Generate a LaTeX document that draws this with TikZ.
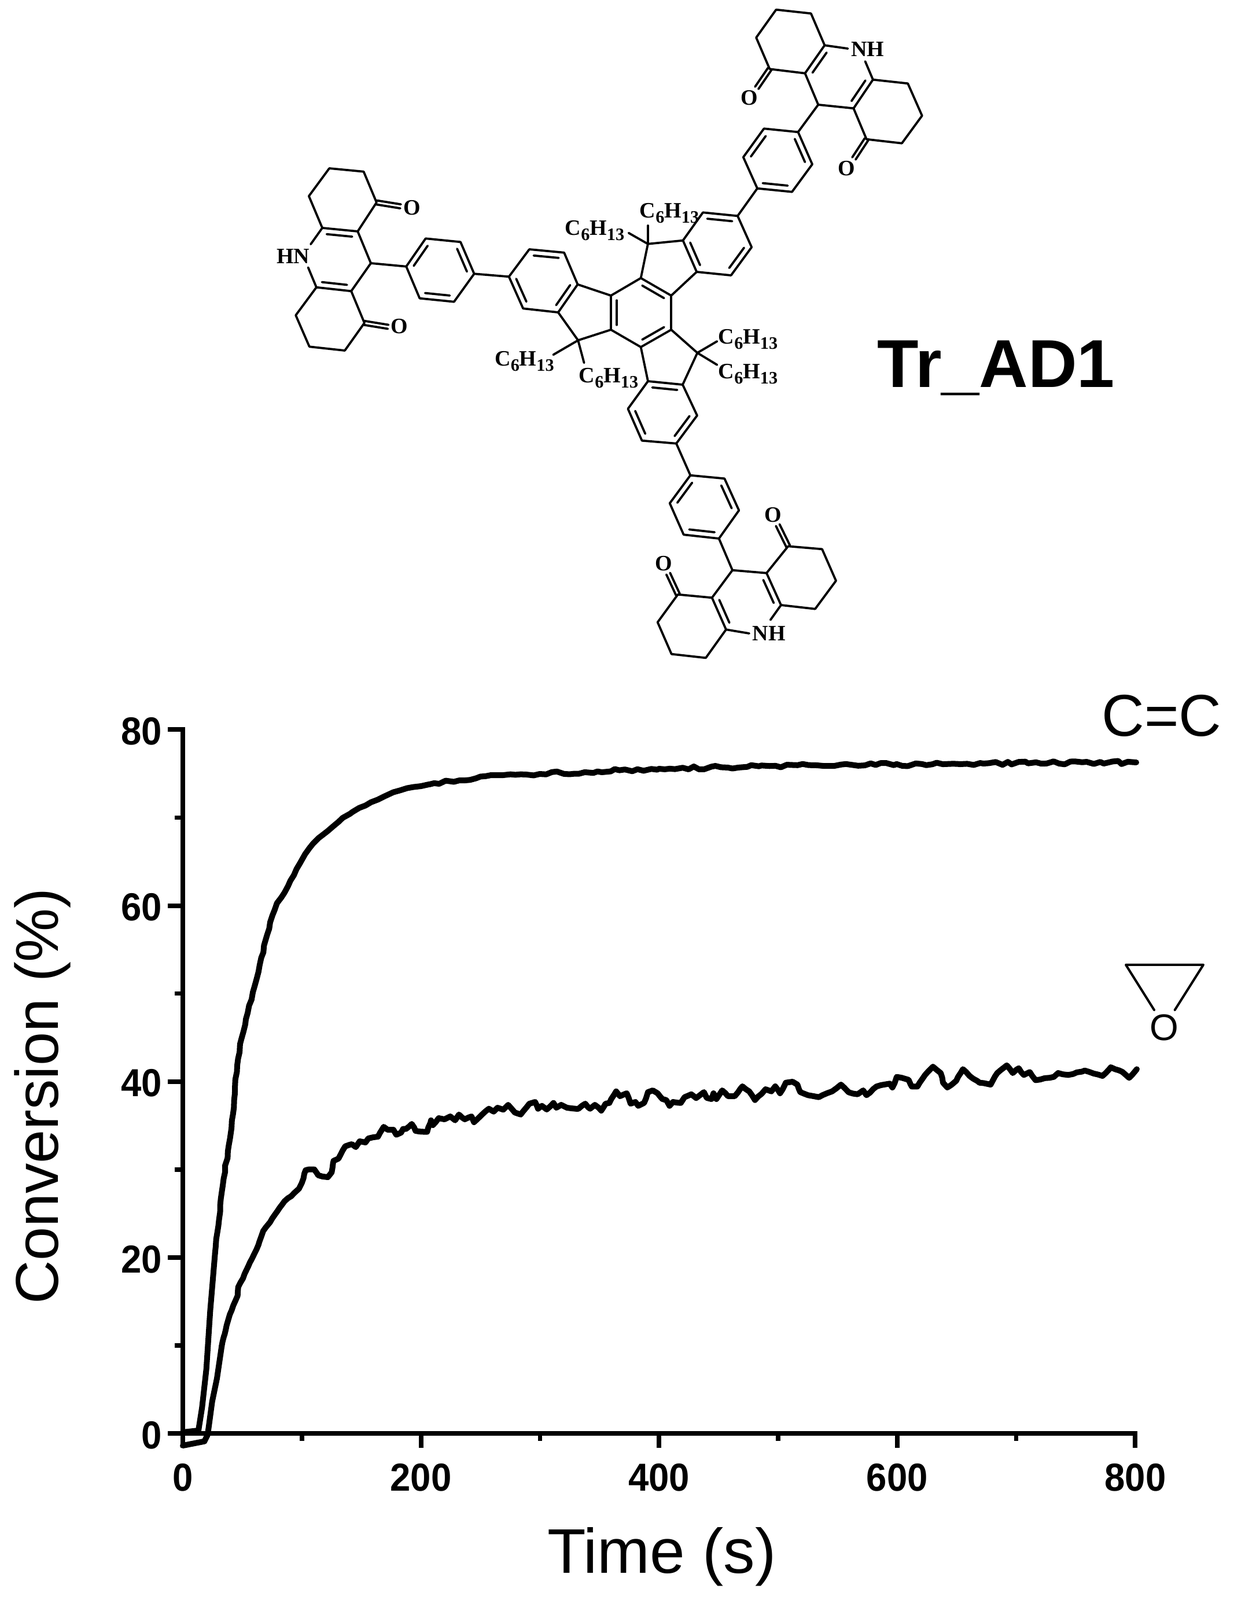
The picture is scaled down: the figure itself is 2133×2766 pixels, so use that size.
\documentclass[tikz,border=0pt]{standalone}
\usepackage{fontspec}
\setmainfont{Liberation Serif}
\newfontfamily\arialfont{Liberation Sans}
\usetikzlibrary{calc,decorations.pathmorphing}
\newcommand{\dbl}[2]{\draw[bondline] (#1)--(#2);
  \draw[bondline] ($(#1)!0.14!(#2)!0.1cm!-90:(#2)$)--($(#2)!0.14!(#1)!0.1cm!90:(#1)$);}
\newcommand{\cdo}[2]{\draw[bondline] ($(#1)!0.035cm!90:(#2)$)--($(#2)!0.035cm!-90:(#1)$);
  \draw[bondline] ($(#1)!0.035cm!-90:(#2)$)--($(#2)!0.035cm!90:(#1)$);}
\newcommand{\bonds}[1]{\foreach \pa/\pb in {#1}{\draw[bondline] (\pa)--(\pb);}}
\newcommand{\hexyl}{C\raisebox{-0.09cm}{\fontsize{8.6pt}{9pt}\selectfont 6}H\raisebox{-0.09cm}{\fontsize{8.6pt}{9pt}\selectfont 13}}
\tikzset{
  bondline/.style={line width=0.038cm,line cap=round,line join=round},
  atom/.style={font=\fontsize{10.8pt}{12pt}\selectfont\bfseries,inner sep=0pt},
  axisline/.style={line width=0.078cm,line cap=rect},
  majortick/.style={line width=0.08cm},
  minortick/.style={line width=0.075cm},
  ticklabel/.style={font=\arialfont\fontsize{19.2pt}{20pt}\selectfont\bfseries,inner sep=0pt,xscale=0.94},
  axistitle/.style={font=\arialfont\fontsize{29pt}{32pt}\selectfont,inner sep=0pt},
  curvebase/.style={line width=0.1cm,line join=round,line cap=round},
  noisyflat/.style={curvebase,decorate,decoration={random steps,segment length=0.1cm,amplitude=0.03cm}},
  noisyrise/.style={curvebase,decorate,decoration={random steps,segment length=0.12cm,amplitude=0.012cm}},
  noisyfine/.style={curvebase,decorate,decoration={random steps,segment length=0.08cm,amplitude=0.007cm}}
}
\begin{document}
\begin{tikzpicture}[x=0.01cm,y=-0.01cm]
\useasboundingbox (0,0) rectangle (2133,2766);
\fill[white] (0,0) rectangle (2133,2766);
% molecule vertices
\foreach \n/\x/\y in {A1/1341.5/16.7,A2/1401.8/23.3,A3/1425.4/78.3,A4/1391.5/126.7,A5/1330.4/119.3,A6/1307.1/65,
 TC/1414.3/181,R1/1475.4/187.3,R2/1508.9/137.7,R3/1569.2/144.3,R4/1593.8/200,R5/1558.9/247.7,R6/1497.8/240.7,
 Oa/1308/152,Ob/1476/274,Na/1465.6/84,Nb/1495.5/106,
 P1/1379.5/228.3,P2/1404/284,P3/1369/331.7,P4/1309/325.7,P5/1284.8/271.7,P6/1320.5/222.3,
 T1/1275/373.3,T2/1215/367.3,T3/1180.5/415.7,T4/1204.2/470,T5/1263.6/476,T6/1299.2/427.3,
 QT/1119.9/421.7,QTa/1119.9/390,QTb/1086.6/402.7,
 C1/1107.7/480.7,C2/1160.2/511,C3/1160.2/570,C4/1107.7/600,C5/1056/570,C6/1056/511,
 L1/998.5/491.7,L2/964.8/540,L3/904.2/533.3,L4/879.7/478.3,L5/914.9/431,L6/975.1/436.7,
 QL/999.2/588.3,QLa/956.3/613.3,QLb/1009.6/627.3,
 QB/1205.4/610,QBa/1239.5/590,QBb/1239.5/630.7,
 B1/1120/659,B2/1180/665,B3/1205/718.3,B4/1169/766.7,B5/1109.6/761.7,B6/1085.4/706.7,
 Q1/1193.3/821.7,Q2/1252.3/827.3,Q3/1277.3/882.3,Q4/1242.7/931,Q5/1181.7/924.3,Q6/1157.7/870,
 BC/1266/985.7,D1/1325/990.7,D2/1362.3/944.3,D3/1421/949.3,D4/1445/1004,D5/1409/1052.7,D6/1350/1046,
 Oc/1344.3/907.7,Nc/1331.7/1071.7,Nd/1295/1095,
 E1/1230.7/1033.3,E2/1255/1088.3,E3/1220/1137.3,E4/1160.7/1130.7,E5/1136.7/1075.7,E6/1171.7/1027.7,Od/1155/991.7,
 M1/735.7/412.3,M2/796/418.3,M3/819.6/473.3,M4/784.8/521.7,M5/725.4/515.7,M6/702.2/460.7,
 LC/641/455,G1/618.3/400,G2/650.9/350,G3/628.6/296.7,G4/569.2/291,G5/533.9/339,G6/557.1/394,
 H1/607.1/503.3,H2/546.9/496.7,H3/511.2/545,H4/534.8/599.3,H5/596/606,H6/629.9/558.3,
 Oe/692.4/356.7,Of/671/565,Ne/537/422.3,Nf/532.6/462.3}
 {\coordinate (\n) at (\x,\y);}
\bonds{A1/A2,A2/A3,A4/A5,A5/A6,A6/A1,A4/TC,TC/R1,R2/R3,R3/R4,R4/R5,R5/R6,R6/R1,A3/Na,R2/Nb,TC/P1,
  P2/P3,P4/P5,P6/P1,P4/T1,T1/T6,T5/T4,T3/T2,QT/T3,QT/QTa,QT/QTb,QT/C1,C2/T4,
  C2/C3,C4/C5,C6/C1,C6/L1,L2/L3,L4/L5,L6/L1,L4/M3,QL/L2,QL/C5,QL/QLa,QL/QLb,
  C3/QB,QB/B2,QB/QBa,QB/QBb,C4/B1,B2/B3,B4/B5,B6/B1,B4/Q1,Q1/Q2,Q3/Q4,Q5/Q6,Q4/BC,
  BC/D1,D1/D2,D2/D3,D3/D4,D4/D5,D5/D6,D6/Nc,BC/E1,E2/Nd,E2/E3,E3/E4,E4/E5,E5/E6,E6/E1,
  M1/M2,M3/M4,M5/M6,M6/LC,LC/G1,G1/G2,G2/G3,G3/G4,G4/G5,G5/G6,G6/Ne,LC/H1,H1/H6,H6/H5,H5/H4,H4/H3,H3/H2,H2/Nf}
\dbl{A4}{A3}\dbl{R2}{R1}
\dbl{P1}{P2}\dbl{P3}{P4}\dbl{P5}{P6}
\dbl{T2}{T1}\dbl{T6}{T5}\dbl{T4}{T3}
\dbl{C1}{C2}\dbl{C3}{C4}\dbl{C5}{C6}
\dbl{L1}{L2}\dbl{L3}{L4}\dbl{L5}{L6}
\dbl{B1}{B2}\dbl{B3}{B4}\dbl{B5}{B6}
\dbl{Q2}{Q3}\dbl{Q4}{Q5}\dbl{Q6}{Q1}
\dbl{D1}{D6}\dbl{E2}{E1}
\dbl{M2}{M3}\dbl{M4}{M5}\dbl{M6}{M1}
\dbl{G6}{G1}\dbl{H1}{H2}
\cdo{A5}{Oa}\cdo{R6}{Ob}\cdo{D2}{Oc}\cdo{E6}{Od}\cdo{G2}{Oe}\cdo{H6}{Of}
% atom labels
\node[atom] (nh1) at (1500,85) {NH};
\node[atom] (o1) at (1295.5,169.3) {O};
\node[atom] (o2) at (1463,290.7) {O};
\node[atom] (nh2) at (1329.3,1095) {NH};
\node[atom] (o3) at (1336,890) {O};
\node[atom] (o4) at (1147,974) {O};
\node[atom] (nh3) at (506.7,443.3) {HN};
\node[atom] (o5) at (712,359) {O};
\node[atom] (o6) at (690,564) {O};
\node[atom] (hx1) at (1157,369) {\hexyl};
\node[atom] (hx2) at (1028,399) {\hexyl};
\node[atom] (hx3) at (906.5,625) {\hexyl};
\node[atom] (hx4) at (1052,654) {\hexyl};
\node[atom] (hx5) at (1293,587) {\hexyl};
\node[atom] (hx6) at (1293,647) {\hexyl};
\node[font=\arialfont\fontsize{33.3pt}{36pt}\selectfont\bfseries,inner sep=0pt] (name) at (1722,636) {Tr\_AD1};
% plot axes
\begin{scope}[shift={(316,2478)},x=0.020575cm,y=0.152cm]
\coordinate (org) at (0,0);
\coordinate (xend) at (800,0);
\coordinate (yend) at (0,80);
\draw[axisline] (yend)--(org)--(xend);
\foreach \t in {0,200,400,600,800}{
  \draw[majortick] (\t,0)--++(0,-0.25cm);
  \node[ticklabel] (xt\t) at (\t,0) [yshift=-0.76cm] {\t};}
\foreach \t in {100,300,500,700}{\draw[minortick] (\t,0)--++(0,-0.13cm);}
\foreach \c in {0,20,40,60,80}{
  \draw[majortick] (0,\c)--++(-0.26cm,0);
  \node[ticklabel,anchor=east] (yt\c) at (0,\c) [xshift=-0.38cm,yshift=-0.03cm] {\c};}
\foreach \c in {10,30,50,70}{\draw[minortick] (0,\c)--++(-0.14cm,0);}
\end{scope}
% C=C curve
\draw[curvebase] (316,2476)--(343,2473)--(349.3,2433)--(356.7,2366.7)--(363.3,2266.7)--(371.7,2166.7);
\draw[noisyrise] plot[smooth,tension=0.5] coordinates {(371.7,2166.7)(385,2050)(400,1950)(411.7,1830)(425,1762)(443.6,1692)(461.7,1616.7)(475,1573)(491.7,1543)(508,1513)(528,1477)(556.7,1444.4)(610,1403.4)(680,1370)(742,1356)};
\draw[noisyflat] (742,1356)--(830.4,1342.5)--(933,1338)--(1139,1329)--(1412,1323)--(1700,1320)--(1964,1318);
% epoxide curve
\draw[curvebase] (316,2499)--(353.3,2491.7)--(359,2480)--(366.7,2423)--(375,2383)--(383.3,2326.7);
\draw[noisyfine] (383.3,2326.7)--(388.3,2306.7)--(395,2280)--(403.3,2256.7)--(410.7,2240)--(411.7,2225)--(420,2210)--(431.7,2183)--(440,2166.7)--(448.3,2146.7)--(455,2128)--(466.7,2113)--(475,2100)--(483.3,2088)--(491.7,2076.7)--(503.3,2068)--(516.7,2055)--(521.7,2045)--(528.3,2023)--(533.3,2021.7)--(543.3,2021.7)--(550,2031.7)--(566.7,2035)--(573.3,2026.7)--(576.7,2006.7)--(585,2003)--(596.7,1981.7)--(608.3,1978)--(615,1983)--(621.7,1973)--(631.7,1975)--(636.7,1968)--(653.3,1965)--(663.3,1948)--(670,1953)--(680,1953)--(685,1961.7)--(693.3,1958)--(696.7,1951.7)--(701.7,1951.7)--(711.7,1943)--(718.3,1955)--(738.3,1956.7)--(745,1936.7)--(748.3,1945)--(758.3,1933)--(768.3,1935)--(778.3,1930)--(786.7,1936.7)--(793.3,1926.7)--(803.3,1935)--(815,1930)--(819.3,1940)--(833.3,1926.7)--(845,1916.7)--(853.3,1921.7)--(860,1915)--(870,1918.3)--(878.3,1910)--(890,1923.3)--(900,1926.7)--(915,1908)--(925,1905)--(930,1916.7)--(936.7,1911.7)--(945,1918)--(956.7,1906.7)--(961.7,1915)--(970,1910)--(980,1915)--(1000,1916.7)--(1011.7,1908)--(1020,1916.7)--(1028.3,1910)--(1039.3,1920)--(1046.7,1908)--(1053.3,1906.7)--(1065,1886.7)--(1071.7,1895)--(1083.3,1890)--(1090,1908)--(1098.3,1905)--(1103.3,1911.7)--(1113.3,1906.7)--(1120,1888)--(1128.3,1885)--(1136.7,1890)--(1145,1900)--(1151.7,1901.7)--(1157.3,1911.7)--(1163.3,1905)--(1176.7,1906.7)--(1183.3,1896.7)--(1195,1891.7)--(1203.3,1898.3)--(1216.7,1888)--(1221.7,1898)--(1230,1900)--(1233.3,1890)--(1238.3,1900)--(1248.3,1885)--(1258.3,1895)--(1270,1895)--(1283.3,1878)--(1295,1886.7)--(1305,1901.7)--(1323.3,1883)--(1333.3,1886.7)--(1340,1878)--(1348.3,1890)--(1358.3,1871.7)--(1370,1870)--(1378.3,1875)--(1383.3,1888)--(1396.7,1893.3)--(1415.3,1896.7)--(1438.3,1886.7)--(1453.6,1875)--(1467,1888.3)--(1482.4,1891.7)--(1492,1885)--(1497.7,1893.3)--(1515,1878.3)--(1538,1873.3)--(1542.5,1880)--(1550,1861.7)--(1570.5,1866.7)--(1576,1878.3)--(1585.8,1878.3)--(1599,1858.3)--(1612.6,1844)--(1626,1855)--(1630,1871.7)--(1637.5,1880)--(1652.9,1868.3)--(1664.4,1848.3)--(1675.9,1860)--(1693,1871.7)--(1712.3,1875)--(1723.8,1855)--(1740.2,1841.7)--(1750.6,1855)--(1760.9,1846.7)--(1769.7,1858.3)--(1780,1853.3)--(1790,1867.3)--(1821.5,1861.7)--(1829,1855)--(1846.4,1858.3)--(1875,1850.7)--(1905.7,1860)--(1920,1845)--(1940,1853)--(1951.7,1863.3)--(1965,1848.3);
% titles
\node[axistitle,font=\arialfont\fontsize{29.7pt}{32pt}\selectfont,rotate=90] (ylab) at (73,1895) {Conversion (\%)};
\node[axistitle,font=\arialfont\fontsize{31pt}{34pt}\selectfont] (xlab) at (1144,2691) {Time (s)};
\node[axistitle] (cc) at (2008,1237) {C=C};
\coordinate (ea) at (1946,1667.9);
\coordinate (eb) at (2080,1667.9);
\coordinate (ec) at (1995,1746);
\coordinate (ed) at (2030.7,1746);
\draw[line width=0.04cm,line cap=round,line join=round] (ec)--(ea)--(eb)--(ed);
\node[font=\arialfont\fontsize{18.2pt}{20pt}\selectfont,inner sep=0pt] (eo) at (2012.7,1776) {O};
\end{tikzpicture}
\end{document}
